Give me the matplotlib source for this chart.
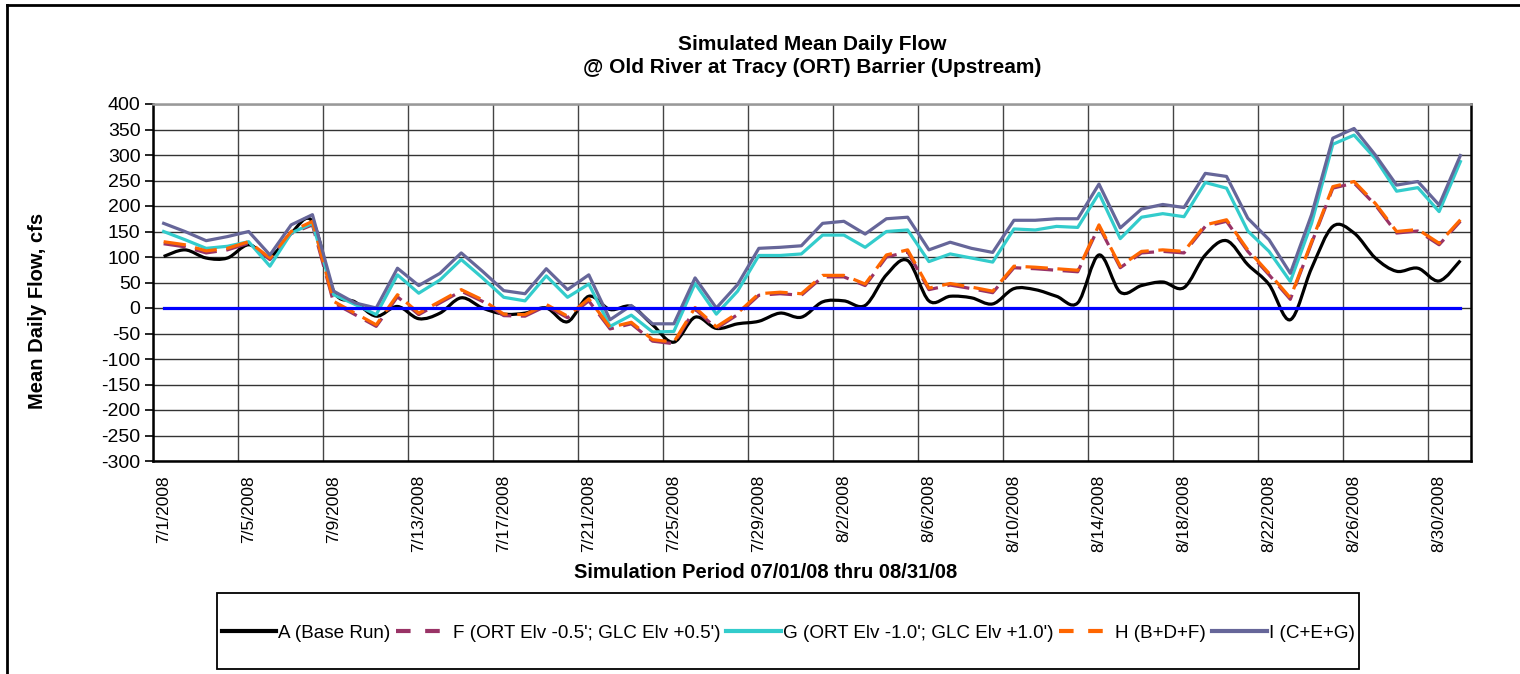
import numpy as np
import pandas as pd
import matplotlib
matplotlib.use("Agg")
import matplotlib.pyplot as plt
from matplotlib.path import Path
from matplotlib.patches import PathPatch, Rectangle
from matplotlib.lines import Line2D

plt.rcParams['font.family'] = ['Liberation Sans', 'DejaVu Sans']
plt.rcParams['axes.unicode_minus'] = False

# simulation days 7/1/2008 .. 8/31/2008
dates = pd.date_range('2008-07-01', '2008-08-31')
date_labels = [f"{d.month}/{d.day}/{d.year}" for d in dates]

# mean daily flow, cfs
flow_A = [101, 114, 98, 98, 124, 101, 147, 170, 33, 12, -16, 3, -21, -10, 20, 0, -12, -10, 0, -27, 23,
          -3, 3, -33, -67, -18, -40, -31, -26, -10, -18, 12, 14, 5, 65, 93, 14, 23, 20, 8, 38,
          36, 23, 10, 104, 31, 44, 51, 40, 104, 132, 85, 46, -23, 78, 160, 147, 98, 72, 78, 53, 93]
flow_F = [126, 120, 108, 114, 127, 95, 146, 163, 10, -13, -36, 22, -13, 10, 33, 13, -15, -16, 4, -19, 14,
          -41, -31, -65, -70, -2, -40, -13, 25, 28, 25, 61, 61, 44, 100, 110, 36, 45, 38, 30, 79,
          77, 74, 71, 160, 79, 108, 111, 108, 160, 170, 111, 65, 17, 127, 235, 245, 202, 147, 151, 124, 170]
flow_G = [150, 134, 117, 121, 130, 82, 147, 166, 26, 7, -13, 65, 29, 55, 95, 59, 21, 14, 63, 21, 47,
          -36, -14, -47, -46, 48, -12, 33, 103, 103, 106, 143, 143, 119, 150, 153, 91, 106, 98, 90, 155,
          153, 160, 158, 225, 136, 178, 185, 179, 246, 235, 151, 111, 52, 166, 321, 339, 293, 229, 236, 189, 287]
flow_H = [130, 124, 112, 117, 130, 98, 150, 170, 13, -10, -33, 26, -10, 13, 36, 16, -12, -13, 7, -16, 18,
          -38, -28, -62, -67, 1, -37, -10, 28, 31, 28, 64, 64, 47, 104, 114, 39, 48, 41, 33, 82,
          80, 77, 74, 163, 82, 111, 114, 111, 163, 173, 114, 68, 20, 130, 238, 248, 205, 150, 154, 127, 173]
flow_I = [166, 150, 132, 140, 150, 104, 163, 183, 33, 10, 0, 78, 44, 68, 108, 72, 34, 28, 77, 36, 65,
          -23, 5, -31, -31, 59, 0, 46, 117, 119, 122, 166, 170, 145, 175, 178, 114, 129, 117, 109, 172,
          172, 175, 175, 243, 157, 194, 203, 197, 264, 258, 176, 134, 68, 183, 333, 352, 300, 241, 248, 202, 299]
zero_line = [0] * len(dates)

labels = ["A (Base Run)", "F (ORT Elv -0.5'; GLC Elv +0.5')", "G (ORT Elv -1.0'; GLC Elv +1.0')",
          "H (B+D+F)", "I (C+E+G)"]
colors = ["#000000", "#993366", "#33CCCC", "#FF6600", "#666699"]


def smooth_path(x, y):
    # excel style smoothed line: catmull-rom as cubic bezier
    pts = np.column_stack([x, y]).astype(float)
    verts = [pts[0]]
    codes = [Path.MOVETO]
    n = len(pts)
    for i in range(n - 1):
        p0 = pts[max(i - 1, 0)]
        p1 = pts[i]
        p2 = pts[i + 1]
        p3 = pts[min(i + 2, n - 1)]
        verts += [p1 + (p2 - p0) / 6, p2 - (p3 - p1) / 6, p2]
        codes += [Path.CURVE4] * 3
    return Path(verts, codes)


fig = plt.figure(figsize=(15.2, 6.74), dpi=100)
ax = fig.add_axes([153 / 1520, 1 - 461 / 674, 1318 / 1520, 357 / 674])

x = np.arange(len(dates))
lw = 2.3

patchA = PathPatch(smooth_path(x, flow_A), fill=False, edgecolor=colors[0], lw=lw, zorder=3)
ax.add_patch(patchA)
ax.plot(x, flow_F, color=colors[1], lw=lw, dashes=(7, 3), zorder=3)
ax.plot(x, flow_G, color=colors[2], lw=lw, zorder=3)
ax.plot(x, flow_H, color=colors[3], lw=lw, dashes=(7, 3), zorder=3)
ax.plot(x, flow_I, color=colors[4], lw=lw, zorder=3)
ax.plot(x, zero_line, color="#0000FF", lw=2.3, zorder=4)

ax.set_xlim(-0.5, len(dates) - 0.5)
ax.set_ylim(-300, 400)
ax.set_yticks(np.arange(-300, 401, 50))
ax.set_xticks(x[::4])
ax.set_xticklabels(date_labels[::4], rotation=90, fontsize=12.5, va='top', ha='center')
ax.set_xticks(np.arange(-0.5, len(dates), 4), minor=True)
ax.tick_params(axis='x', which='both', length=0, pad=10)
ax.tick_params(axis='y', length=6, width=1.2, labelsize=14, pad=3)
ax.grid(True, axis='y', color='#333333', lw=1)
ax.grid(True, axis='x', which='minor', color='#444444', lw=1)
ax.set_axisbelow(True)
for side in ['left', 'bottom', 'right']:
    ax.spines[side].set_linewidth(1.8)
    ax.spines[side].set_color('black')
ax.spines['top'].set_color('#999999')
ax.spines['top'].set_linewidth(1.8)

fig.text(812 / 1520, 1 - 56 / 674, "Simulated Mean Daily Flow\n@ Old River at Tracy (ORT) Barrier (Upstream)",
         ha='center', va='center', fontsize=15, fontweight='bold', linespacing=1.25)
fig.text(38 / 1520, 1 - 311 / 674, "Mean Daily Flow, cfs", rotation=90, ha='center', va='center',
         fontsize=14.5, fontweight='bold')
fig.text(766 / 1520, 1 - 572 / 674, "Simulation Period 07/01/08 thru 08/31/08", ha='center', va='center',
         fontsize=14.5, fontweight='bold')

# outer chart frame
fig.add_artist(Line2D([7 / 1520, 1.01], [1 - 5 / 674] * 2, color='black', lw=2, transform=fig.transFigure))
fig.add_artist(Line2D([7 / 1520] * 2, [1 - 5 / 674, -0.01], color='black', lw=2, transform=fig.transFigure))

# legend box
fig.add_artist(Rectangle((217 / 1520, 1 - 669 / 674), (1359 - 217) / 1520, (669 - 593) / 674,
                         fill=False, edgecolor='black', lw=1.3, transform=fig.transFigure))
handles = [Line2D([], [], color=colors[0], lw=3),
           Line2D([], [], color=colors[1], lw=3, dashes=(3.5, 3.5)),
           Line2D([], [], color=colors[2], lw=3),
           Line2D([], [], color=colors[3], lw=3, dashes=(3.5, 3.5)),
           Line2D([], [], color=colors[4], lw=3)]
fig.legend(handles, labels, loc='center', bbox_to_anchor=(788 / 1520, 1 - 633 / 674), ncol=5,
           frameon=False, fontsize=13.6, handlelength=2.9, handletextpad=0.1, columnspacing=0.3)

fig.savefig("out.png", dpi=100)
